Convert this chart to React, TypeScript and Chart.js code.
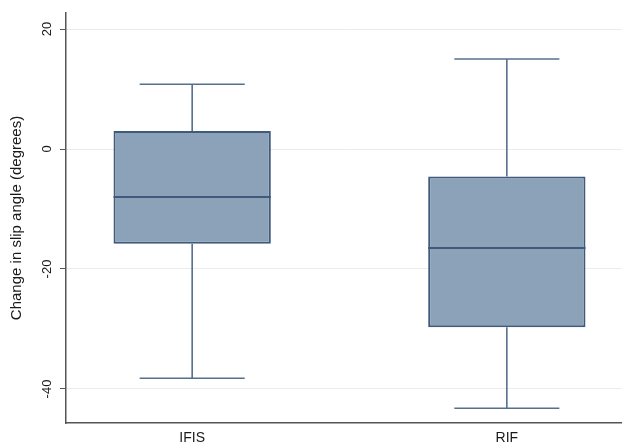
import React, { useEffect, useRef } from 'react';
import { Chart, registerables } from 'chart.js';

Chart.register(...registerables);

// ---- data ----
const categories = ['IFIS', 'RIF'];
const categoryPositions = [1, 2];
const whiskerLow = [-38.2, -43.2];
const q1 = [-15.8, -29.7];
const median = [-8.0, -16.5];
const q3 = [3.0, -4.6];
const whiskerHigh = [10.8, 15.0];
const yTicks = [-40, -20, 0, 20];

// ---- layout / style constants ----
const BOX_HALF = 0.25;
const CAP_HALF = 0.167;
const FILL = '#8ca2b9';
const EDGE = '#3f5a7b';
const WHISKER = '#55708f';

function buildWhiskers() {
  const pts: { x: number; y: number | null }[] = [];
  categoryPositions.forEach((p, i) => {
    pts.push({ x: p, y: q3[i] }, { x: p, y: whiskerHigh[i] }, { x: p, y: null });
    pts.push({ x: p - CAP_HALF, y: whiskerHigh[i] }, { x: p + CAP_HALF, y: whiskerHigh[i] }, { x: p, y: null });
    pts.push({ x: p, y: q1[i] }, { x: p, y: whiskerLow[i] }, { x: p, y: null });
    pts.push({ x: p - CAP_HALF, y: whiskerLow[i] }, { x: p + CAP_HALF, y: whiskerLow[i] }, { x: p, y: null });
  });
  return pts;
}

function buildMedians() {
  const pts: { x: number; y: number | null }[] = [];
  categoryPositions.forEach((p, i) => {
    pts.push({ x: p - BOX_HALF, y: median[i] }, { x: p + BOX_HALF, y: median[i] }, { x: p, y: null });
  });
  return pts;
}

export default function App() {
  const ref = useRef<HTMLCanvasElement | null>(null);

  useEffect(() => {
    if (!ref.current) return;
    Chart.defaults.font.family = '"Liberation Sans", Arial, sans-serif';
    const chart = new Chart(ref.current, {
      type: 'bar',
      data: {
        datasets: [
          {
            type: 'line',
            label: 'medians',
            data: buildMedians(),
            borderColor: EDGE,
            borderWidth: 2,
            pointRadius: 0,
            spanGaps: false,
            order: 0,
          } as any,
          {
            type: 'line',
            label: 'whiskers',
            data: buildWhiskers(),
            borderColor: WHISKER,
            borderWidth: 1.6,
            pointRadius: 0,
            spanGaps: false,
            order: 1,
          } as any,
          {
            type: 'bar',
            label: 'box',
            data: categoryPositions.map((p, i) => ({ x: p, y: [q1[i], q3[i]] })),
            backgroundColor: FILL,
            borderColor: EDGE,
            borderWidth: 2,
            borderSkipped: false,
            barPercentage: 0.5,
            categoryPercentage: 1,
            order: 2,
          } as any,
        ],
      },
      options: {
        animation: false,
        responsive: false,
        layout: { padding: { top: 13, right: 0, left: 0, bottom: 0 } },
        plugins: { legend: { display: false }, tooltip: { enabled: false } },
        scales: {
          x: {
            type: 'linear',
            min: 0.599,
            max: 2.366,
            offset: false,
            grid: { display: false, drawTicks: false },
            border: { color: '#555555', width: 1.5 },
            afterBuildTicks: (scale: any) => {
              scale.ticks = categoryPositions.map((v) => ({ value: v }));
            },
            afterFit: (scale: any) => {
              scale.height = 23;
            },
            ticks: {
              padding: 7,
              color: '#1a1a1a',
              font: { size: 14 },
              maxRotation: 0,
              callback: (v: any) => {
                const idx = categoryPositions.indexOf(Number(v));
                return idx >= 0 ? categories[idx] : '';
              },
            },
          },
          y: {
            type: 'linear',
            min: -45.67,
            max: 22.67,
            grid: { color: '#ececec', lineWidth: 1, tickColor: '#555555', tickLength: 6, drawTicks: true },
            border: { color: '#555555', width: 1.5 },
            afterBuildTicks: (scale: any) => {
              scale.ticks = yTicks.map((v) => ({ value: v }));
            },
            afterFit: (scale: any) => {
              scale.width = 66;
            },
            ticks: {
              color: '#1a1a1a',
              font: { size: 13 },
              minRotation: 90,
              maxRotation: 90,
              crossAlign: 'center',
              padding: 3,
            },
            title: {
              display: true,
              text: 'Change in slip angle (degrees)',
              color: '#1a1a1a',
              font: { size: 15 },
              padding: { top: 8, bottom: 0 },
            },
          },
        },
      },
    });
    return () => chart.destroy();
  }, []);

  return (
    <div style={{ position: 'fixed', left: 0, top: 0, width: 622, height: 446, background: '#ffffff' }}>
      <canvas ref={ref} width={622} height={446} />
    </div>
  );
}
